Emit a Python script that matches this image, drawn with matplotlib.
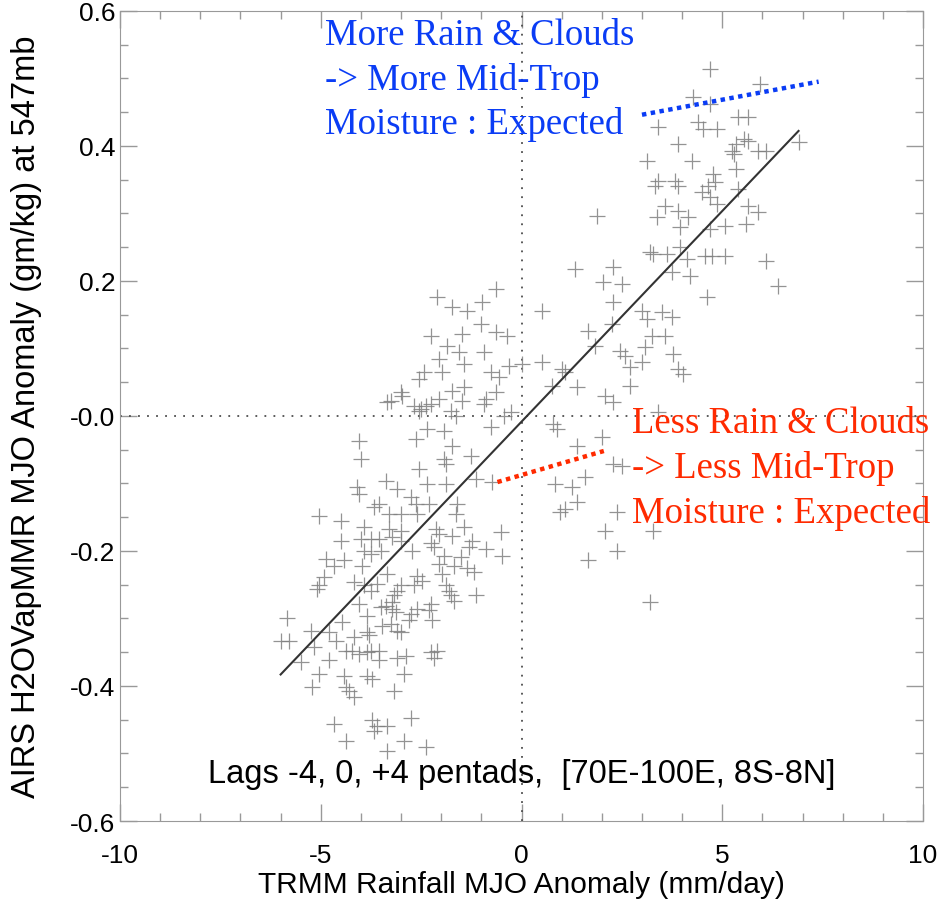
import matplotlib
matplotlib.use("Agg")
import matplotlib.pyplot as plt
from matplotlib.ticker import MultipleLocator, FixedLocator

# scatter points (TRMM rain anomaly, AIRS H2O anomaly)
rain = [
    4.70, 5.95, 4.28, 4.70, 5.38, 5.65, 3.40, 4.40, 4.53, 4.88,
    5.53, 5.65, 5.33, 3.90, 5.25, 5.28, 5.90, 6.08, 6.90, 3.13,
    4.25, 5.33, 4.78, 4.83, 3.40, 3.33, 3.83, 3.90, 4.65, 4.50,
    4.70, 5.40, 4.88, 3.58, 1.88, 3.38, 3.90, 4.15, 5.65, 5.88,
    5.08, 5.58, 4.70, 3.95, 3.20, 3.28, 3.63, 3.95, 4.13, 4.58,
    4.75, 5.08, 6.08, 1.33, 2.28, 2.03, 2.50, 3.75, 4.20, 6.38,
    4.63, 0.50, 2.28, 3.00, 3.13, 3.50, 3.75, 1.65, 2.25, 3.25,
    3.58, 3.08, 2.45, 2.58, 1.83, 0.50, 3.78, 3.00, 2.70, 3.90,
    4.03, 1.00, 1.08, 0.75, 1.38, 2.70, 2.08, 2.28, 3.40, 0.78,
    0.88, 1.38, 2.00, 2.28, 2.50, 0.83, 1.25, 1.58, 1.38, 1.08,
    0.95, 2.38, 2.08, 3.28, 2.38, 1.65, 3.20,
    -0.63, -2.10, -1.73, -1.35, -0.98, -1.00, -2.25, -1.48, -0.63, -0.35,
    -1.85, -1.55, -0.93, -2.05, -1.43, -1.98, -2.43, -2.55, -0.75, -0.55,
    -0.30, 0.00, -3.00, -2.98, -1.73, -1.43, -0.63, -3.25, -3.35, -2.05,
    -1.48, -0.88, -0.93, -2.68, -2.50, -2.38, -2.25, -2.55, -1.75, -1.63,
    -0.43, -0.25, -0.75, -2.35, -1.93, -2.63, -1.73, -4.05, -4.00, -1.93,
    -1.88, -1.25, -2.55, -3.38, -2.35, -1.88, -1.13, -0.73, -4.10, -4.05,
    -3.10, -2.75, -3.55, -3.68, -2.63, -2.60, -2.30, -1.60, -1.63, -3.30,
    -3.00, -5.05, -4.50,
    -3.93, -3.30, -3.00, -2.13, -1.43, -0.50, -4.50, -4.00, -3.75, -3.55,
    -3.23, -3.00, -2.05, -1.73, -2.25, -2.18, -3.93, -3.75, -3.50, -2.73,
    -1.23, -1.30, -0.88, -0.48, -4.88, -4.68, -4.43, -3.98, -1.93, -1.50,
    -2.05, -1.68, -1.98, -1.35, -1.18, -4.93, -5.05, -5.10, -3.35, -3.60,
    -4.18, -3.93, -2.60, -2.48, -2.68, -3.00, -3.10, -3.18, -3.23, -3.75,
    -1.88, -1.80, -1.75, -1.68, -1.13, -4.05, -3.50, -3.38, -3.23, -3.13,
    -2.25, -2.30, -2.23, -2.60, -2.75, -5.85, -3.85, -4.48, -3.25, -3.10,
    -3.00, -2.80, -5.25, -4.80, -3.85, -3.80, -3.48, -6.00, -5.80, -4.63,
    -4.18, -5.18, -4.38, -4.23, -4.05, -3.85, -3.75, -3.55, -2.88, -3.10,
    -2.25, -2.10, -2.18, -3.55, -4.80, -5.50, -5.05, -4.43, -3.85, -3.73,
    -2.93, -5.23, -4.38, -4.30, -4.18, -3.18, -4.68, -3.73, -3.60, -3.68,
    -3.35, -2.75, -4.38, -2.93, -2.38, -3.35,
]
h2o = [
    0.513, 0.491, 0.473, 0.462, 0.442, 0.442, 0.428, 0.435, 0.425, 0.425,
    0.410, 0.407, 0.402, 0.402, 0.392, 0.388, 0.392, 0.392, 0.405, 0.377,
    0.377, 0.365, 0.358, 0.346, 0.348, 0.340, 0.348, 0.340, 0.340, 0.331,
    0.324, 0.336, 0.314, 0.311, 0.296, 0.294, 0.303, 0.294, 0.311, 0.302,
    0.281, 0.284, 0.277, 0.280, 0.243, 0.240, 0.240, 0.250, 0.232, 0.237,
    0.237, 0.237, 0.229, 0.217, 0.220, 0.198, 0.195, 0.213, 0.207, 0.192,
    0.176, 0.155, 0.169, 0.155, 0.143, 0.154, 0.146, 0.126, 0.136, 0.118,
    0.118, 0.102, 0.096, 0.089, 0.104, 0.080, 0.092, 0.080, 0.072, 0.070,
    0.062, 0.070, 0.065, 0.044, 0.043, 0.044, 0.030, 0.021, 0.006, -0.012,
    -0.019, -0.044, -0.031, -0.071, -0.074, -0.101, -0.105, -0.090, -0.127, -0.138,
    -0.142, -0.142, -0.170, -0.170, -0.200, -0.214, -0.275,
    0.188, 0.176, 0.161, 0.155, 0.169, 0.136, 0.118, 0.121, 0.124, 0.118,
    0.104, 0.095, 0.095, 0.084, 0.077, 0.065, 0.065, 0.055, 0.065, 0.058,
    0.074, 0.077, 0.036, 0.030, 0.037, 0.043, 0.036, 0.022, 0.021, 0.025,
    0.022, 0.025, 0.018, 0.015, 0.010, 0.015, 0.018, 0.007, 0.007, 0.000,
    0.000, 0.006, -0.016, -0.019, -0.022, -0.034, -0.044, -0.037, -0.064, -0.064,
    -0.071, -0.059, -0.078, -0.096, -0.101, -0.101, -0.093, -0.098, -0.105, -0.115,
    -0.108, -0.120, -0.130, -0.135, -0.130, -0.145, -0.130, -0.130, -0.145, -0.145,
    -0.145, -0.149, -0.155,
    -0.164, -0.167, -0.170, -0.167, -0.164, -0.172, -0.185, -0.182, -0.182, -0.182,
    -0.179, -0.186, -0.175, -0.178, -0.189, -0.194, -0.200, -0.204, -0.200, -0.200,
    -0.186, -0.194, -0.197, -0.207, -0.212, -0.222, -0.214, -0.223, -0.207, -0.209,
    -0.219, -0.223, -0.234, -0.226, -0.231, -0.238, -0.251, -0.256, -0.234, -0.249,
    -0.246, -0.251, -0.237, -0.244, -0.251, -0.251, -0.260, -0.266, -0.275, -0.260,
    -0.251, -0.259, -0.266, -0.274, -0.266, -0.278, -0.283, -0.281, -0.286, -0.290,
    -0.278, -0.288, -0.303, -0.286, -0.293, -0.300, -0.296, -0.305, -0.308, -0.318,
    -0.320, -0.303, -0.318, -0.320, -0.320, -0.325, -0.311, -0.333, -0.334, -0.333,
    -0.327, -0.342, -0.348, -0.348, -0.352, -0.349, -0.348, -0.348, -0.355, -0.359,
    -0.349, -0.348, -0.359, -0.362, -0.362, -0.364, -0.382, -0.385, -0.385, -0.389,
    -0.382, -0.401, -0.401, -0.408, -0.416, -0.407, -0.456, -0.451, -0.459, -0.466,
    -0.459, -0.448, -0.481, -0.482, -0.490, -0.497,
]

# regression line end points
fit_x = [-6.0, 6.9]
fit_y = [-0.383, 0.422]

# annotation guide lines
blue_x = [3.0, 7.4]
blue_y = [0.446, 0.495]
red_x = [-0.6, 2.05]
red_y = [-0.098, -0.052]

x_ticks = [-10, -5, 0, 5, 10]
x_labels = ["-10", "-5", "0", "5", "10"]
y_ticks = [-0.6, -0.4, -0.2, 0.0, 0.2, 0.4, 0.6]
y_labels = ["-0.6", "-0.4", "-0.2", "-0.0", "0.2", "0.4", "0.6"]

plt.rcParams["font.family"] = ["Liberation Sans", "DejaVu Sans"]

fig = plt.figure(figsize=(9.43, 9.04), dpi=100)
ax = fig.add_axes([0.1273, 0.0907, 0.8515, 0.8963])

ax.axhline(0, color="0.3", linestyle=(0, (1, 4)), linewidth=1.3)
ax.axvline(0, color="0.3", linestyle=(0, (1, 4)), linewidth=1.3)

ax.plot(rain, h2o, "+", color="0.5", markersize=11, markeredgewidth=0.9, alpha=0.85)
ax.plot(fit_x, fit_y, "-", color="0.2", linewidth=1.5)

ax.plot(blue_x, blue_y, color="#0a3cf5", linestyle=(0, (1, 1)), linewidth=3.2)
ax.plot(red_x, red_y, color="#ff2a00", linestyle=(0, (1, 1)), linewidth=3.2)

ax.text(-4.9, 0.59, "More Rain & Clouds\n-> More Mid-Trop\nMoisture : Expected",
        color="#0a3cf5", fontsize=26.5, family="Liberation Serif",
        va="top", ha="left", linespacing=1.36)
ax.text(2.75, 0.015, "Less Rain & Clouds\n-> Less Mid-Trop\nMoisture : Expected",
        color="#ff2a00", fontsize=26.5, family="Liberation Serif",
        va="top", ha="left", linespacing=1.36)
ax.text(0.0, -0.53, "Lags -4, 0, +4 pentads,  [70E-100E, 8S-8N]",
        color="black", fontsize=23.5, ha="center", va="center")

ax.set_xlim(-10, 10)
ax.set_ylim(-0.6, 0.6)
ax.xaxis.set_major_locator(FixedLocator(x_ticks))
ax.set_xticklabels(x_labels)
ax.yaxis.set_major_locator(FixedLocator(y_ticks))
ax.set_yticklabels(y_labels)
ax.xaxis.set_minor_locator(MultipleLocator(1))
ax.yaxis.set_minor_locator(MultipleLocator(0.05))

ax.tick_params(which="both", direction="in", top=True, right=True,
               color="0.6", labelsize=19, labelcolor="black")
ax.tick_params(which="major", length=12, width=1)
ax.tick_params(which="minor", length=6, width=1)
ax.tick_params(axis="x", pad=16)
for s in ax.spines.values():
    s.set_color("0.6")

ax.set_xlabel("TRMM Rainfall MJO Anomaly (mm/day)", fontsize=21.5, labelpad=2)
ax.set_ylabel("AIRS H2OVapMMR MJO Anomaly (gm/kg) at 547mb", fontsize=23.5)
ax.yaxis.set_label_coords(-0.097, 0.5)

fig.savefig("out.png", dpi=100)
